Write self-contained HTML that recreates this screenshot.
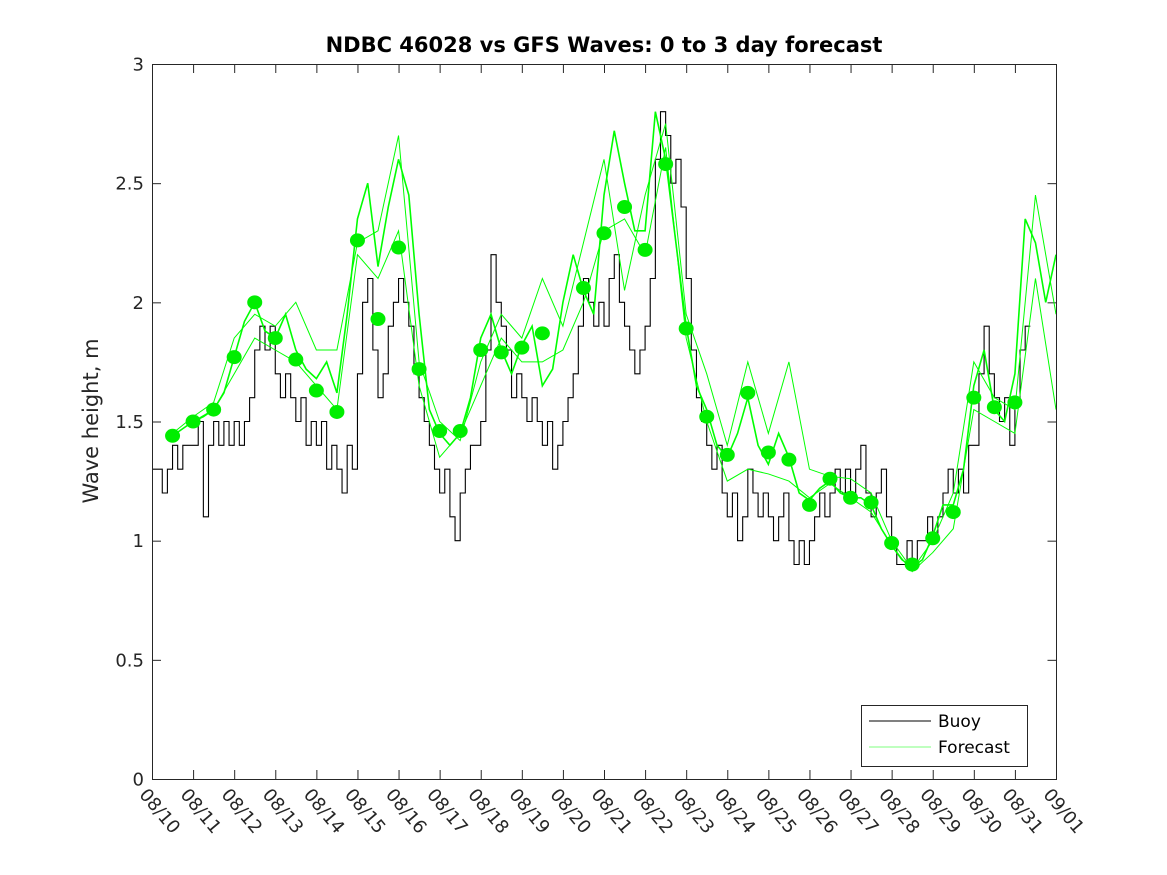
<!DOCTYPE html>
<html><head><meta charset="utf-8"><style>
body{margin:0;background:#fff;}
svg{display:block;font-family:"DejaVu Sans","Liberation Sans",sans-serif;}
</style></head><body>
<svg id="chart" width="1167" height="875" viewBox="0 0 1167 875">
<rect width="1167" height="875" fill="#fff"/>
<text x="604" y="52" text-anchor="middle" font-size="21" font-weight="bold" fill="#000">NDBC 46028 vs GFS Waves: 0 to 3 day forecast</text>
<text transform="translate(98,421) rotate(-90)" text-anchor="middle" font-size="21" fill="#262626">Wave height, m</text>
<g id="grid"></g>
<g id="series"></g>
<rect x="152.5" y="64.5" width="904" height="715" fill="none" stroke="#262626" stroke-width="1"/>
<g>
<rect x="861.5" y="705.5" width="166" height="61" fill="#fff" stroke="#262626"/>
<line x1="869" y1="721" x2="931" y2="721" stroke="#000" stroke-width="1"/>
<text x="938" y="727" font-size="17" fill="#000">Buoy</text>
<line x1="869" y1="747" x2="931" y2="747" stroke="#00ff00" stroke-width="0.6"/>
<text x="938" y="753" font-size="17" fill="#000">Forecast</text>
</g>
</svg>
<script>
const xTickLabels=["08/10","08/11","08/12","08/13","08/14","08/15","08/16","08/17","08/18","08/19","08/20","08/21","08/22","08/23","08/24","08/25","08/26","08/27","08/28","08/29","08/30","08/31","09/01"];
const yTicks=[0,0.5,1,1.5,2,2.5,3];
const yTickLabels=["0","0.5","1","1.5","2","2.5","3"];
// buoy, 3-hourly from 08/10 00:00
const buoy=[
1.3,1.3,1.2,1.3,1.4,1.3,1.4,1.4,
1.4,1.5,1.1,1.4,1.5,1.4,1.5,1.4,
1.5,1.4,1.5,1.6,1.8,1.9,1.8,1.9,
1.7,1.6,1.7,1.6,1.5,1.6,1.4,1.5,
1.4,1.5,1.3,1.4,1.3,1.2,1.4,1.3,
1.7,2.0,2.1,1.8,1.6,1.7,1.9,2.0,
2.1,2.0,1.9,1.7,1.6,1.5,1.4,1.3,
1.2,1.3,1.1,1.0,1.2,1.3,1.4,1.4,
1.5,1.8,2.2,2.0,1.9,1.8,1.6,1.7,
1.6,1.5,1.6,1.5,1.4,1.5,1.3,1.4,
1.5,1.6,1.7,1.9,2.1,2.0,1.9,2.0,
1.9,2.1,2.2,2.0,1.9,1.8,1.7,1.8,
1.9,2.1,2.6,2.8,2.7,2.5,2.6,2.4,
2.1,1.8,1.6,1.5,1.4,1.3,1.4,1.2,
1.1,1.2,1.0,1.1,1.3,1.2,1.1,1.2,
1.1,1.0,1.1,1.2,1.0,0.9,1.0,0.9,
1.0,1.1,1.2,1.1,1.2,1.3,1.2,1.3,
1.2,1.3,1.4,1.2,1.1,1.2,1.3,1.1,
1.0,0.9,0.9,1.0,0.9,1.0,1.0,1.1,
1.0,1.1,1.2,1.3,1.2,1.3,1.2,1.4,
1.4,1.7,1.9,1.7,1.6,1.5,1.6,1.4,
1.6,1.8,1.9];
const buoyStartDay=10, buoyStepDay=0.125;
// forecast main run, 6-hourly from 08/10 12:00
const fcMain=[1.44,1.47,1.50,1.52,1.55,1.62,1.77,1.92,2.00,1.88,1.85,1.95,1.80,1.72,1.68,1.75,1.62,1.95,2.35,2.50,2.15,2.40,2.60,2.45,1.95,1.55,1.45,1.40,1.45,1.60,1.85,1.95,1.80,1.70,1.82,1.90,1.65,1.72,2.00,2.20,2.05,1.95,2.45,2.72,2.50,2.30,2.30,2.80,2.60,2.25,1.90,1.65,1.55,1.40,1.35,1.45,1.60,1.40,1.32,1.45,1.35,1.20,1.17,1.22,1.25,1.20,1.18,1.18,1.15,1.05,0.98,0.92,0.89,0.92,1.02,1.15,1.15,1.30,1.65,1.80,1.55,1.50,1.70,2.35,2.25,2.00,2.20];
// other forecast runs, 12-hourly from 08/10 12:00
const fcHigh=[1.45,1.52,1.58,1.85,1.95,1.90,2.00,1.80,1.80,2.25,2.30,2.70,1.75,1.50,1.42,1.75,1.95,1.85,2.10,1.90,2.25,2.60,2.05,2.45,2.75,1.95,1.70,1.40,1.75,1.45,1.75,1.30,1.27,1.26,1.20,1.00,0.88,1.00,1.20,1.75,1.60,1.55,2.45,1.95];
const fcLow=[1.44,1.50,1.55,1.70,1.85,1.80,1.75,1.65,1.55,2.20,2.10,2.30,1.65,1.35,1.45,1.65,1.85,1.75,1.75,1.80,2.00,2.30,2.35,2.20,2.65,1.85,1.50,1.25,1.30,1.28,1.25,1.18,1.24,1.18,1.12,0.98,0.87,0.95,1.05,1.55,1.50,1.45,2.10,1.55];
const fcStartDay=10.5;
// analysis dots, 12-hourly from 08/10 12:00 (null = missing)
const dots=[1.44,1.50,1.55,1.77,2.00,1.85,1.76,1.63,1.54,2.26,1.93,2.23,1.72,1.46,1.46,1.80,1.79,1.81,1.87,null,2.06,2.29,2.40,2.22,2.58,1.89,1.52,1.36,1.62,1.37,1.34,1.15,1.26,1.18,1.16,0.99,0.90,1.01,1.12,1.60,1.56,1.58];

const NS="http://www.w3.org/2000/svg";
const X0=152,X1=1056,Y0=779,Y1=64,D0=10,D1=32;
function xs(d){return X0+(d-D0)*(X1-X0)/(D1-D0);}
function ys(v){return Y0-v*(Y0-Y1)/3;}
const grid=document.getElementById('grid'),series=document.getElementById('series');
function mk(tag,attrs,parent){const e=document.createElementNS(NS,tag);for(const k in attrs)e.setAttribute(k,attrs[k]);parent.appendChild(e);return e;}

xTickLabels.forEach((lab,i)=>{
  const x=xs(D0+i)+0.5;
  const t1=mk('line',{x1:x,y1:Y0,x2:x,y2:Y0-9,stroke:'#262626'},grid);
  
  
  const t2=mk('line',{x1:x,y1:Y1,x2:x,y2:Y1+9,stroke:'#262626'},grid);
  
  
  const tx=mk('text',{transform:`translate(${x-14},${Y0+16}) rotate(50)`,'font-size':18,fill:'#262626'},grid);
  tx.textContent=lab;
  
  
});
yTicks.forEach((v,i)=>{
  const y=ys(v)+0.5;
  const t1=mk('line',{x1:X0,y1:y,x2:X0+9,y2:y,stroke:'#262626'},grid);
  
  
  const t2=mk('line',{x1:X1+0.5,y1:y,x2:X1-8.5,y2:y,stroke:'#262626'},grid);
  
  
  const tx=mk('text',{x:X0-8,y:y+6,'text-anchor':'end','font-size':18,fill:'#262626'},grid);
  tx.textContent=yTickLabels[i];
  
  
});

let bp=[];
buoy.forEach((v,i)=>{const xa=xs(buoyStartDay+i*buoyStepDay),xb=xs(buoyStartDay+(i+1)*buoyStepDay);bp.push(xa+','+ys(v),xb+','+ys(v));});
const bl=mk('polyline',{points:bp.join(' '),fill:'none',stroke:'#000','stroke-width':1.1},series);



function fcLine(arr,step,name,w){
  const pts=arr.map((v,i)=>xs(fcStartDay+i*step)+','+ys(v)).join(' ');
  const l=mk('polyline',{points:pts,fill:'none',stroke:'#00ff00','stroke-width':w},series);
  
  
}
fcLine(fcHigh,0.5,'forecast-run-high',1);
fcLine(fcLow,0.5,'forecast-run-low',1);
fcLine(fcMain,0.25,'forecast-run-main',1.6);

dots.forEach((v,i)=>{
  if(v===null)return;
  const c=mk('ellipse',{cx:xs(fcStartDay+i*0.5),cy:ys(v),rx:7.5,ry:7,fill:'#00ee00'},series);
  
  
});
</script>
</body></html>
